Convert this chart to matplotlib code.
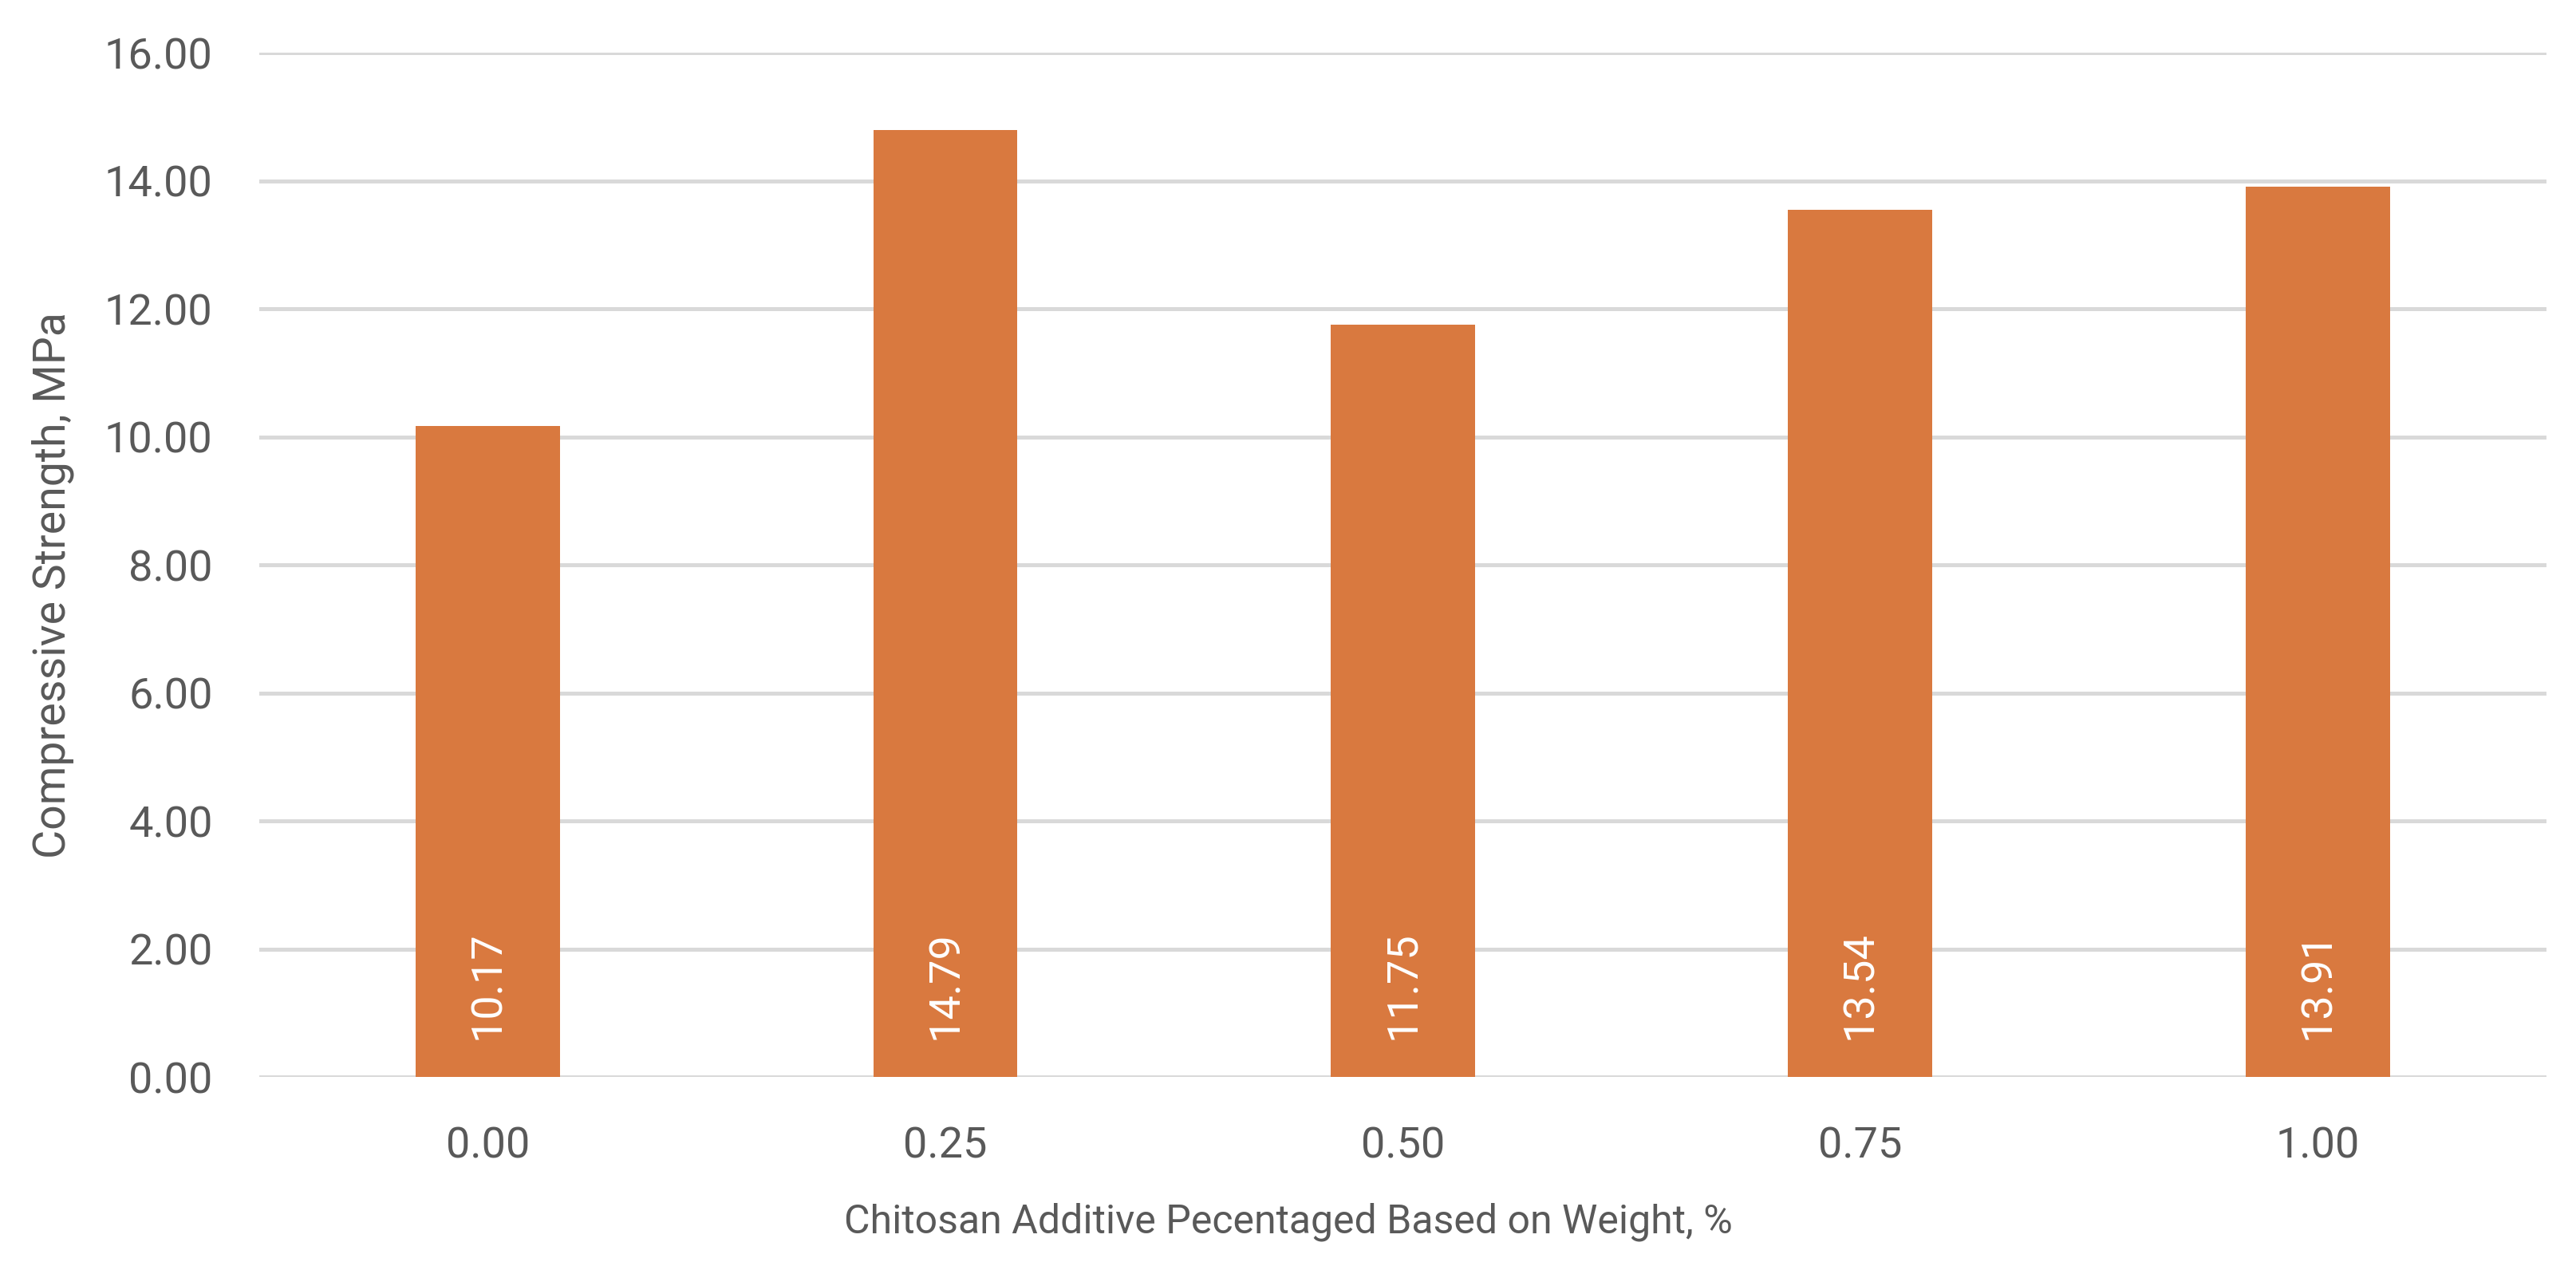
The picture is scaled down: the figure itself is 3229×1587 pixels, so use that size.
import numpy as np
import matplotlib
matplotlib.use('Agg')
import matplotlib.pyplot as plt

## ==========Data
categories = ['0.00', '0.25', '0.50', '0.75', '1.00']
strength = [10.17, 14.79, 11.75, 13.54, 13.91]
y_ticks = [0, 2, 4, 6, 8, 10, 12, 14, 16]

plt.rcParams['font.family'] = ['Roboto', 'DejaVu Sans']
text_col = '#595959'
bar_col = '#D9793F'

## ==========Figure
fig = plt.figure(figsize=(32.3, 15.87), dpi=100)
ax = fig.add_axes([0.1006, 0.1493, 0.8876, 0.8091])

x = np.arange(len(categories))
bars = ax.bar(x, strength, width=0.315, color=bar_col, zorder=3)

## ==========Value labels inside bars
for xi, v in zip(x, strength):
    ax.annotate('%.2f' % v, xy=(xi, 0), xytext=(0, 34), textcoords='offset points',
                rotation=90, ha='center', va='bottom', color='white', fontsize=39, zorder=4)

## ==========Axes styling
ax.set_xlim(-0.5, len(categories) - 0.5)
ax.set_ylim(0, 16)
ax.set_yticks(y_ticks)
ax.set_yticklabels(['%.2f' % t for t in y_ticks])
ax.set_xticks(x)
ax.set_xticklabels(categories)
ax.tick_params(axis='both', length=0, labelsize=39, labelcolor=text_col)
ax.tick_params(axis='y', pad=42)
ax.tick_params(axis='x', pad=44)
ax.grid(axis='y', color='#D9D9D9', linewidth=3.6, zorder=0)
for s in ax.spines.values():
    s.set_visible(False)

fig.text(0.5, 0.026, 'Chitosan Additive Pecentaged Based on Weight, %', ha='center', va='baseline',
         fontsize=36, color=text_col)
fig.text(0.0204, 0.5375, 'Compressive Strength, MPa', ha='center', va='center', rotation=90,
         fontsize=40, color=text_col)

fig.savefig('out.png', dpi=100, facecolor='white')
